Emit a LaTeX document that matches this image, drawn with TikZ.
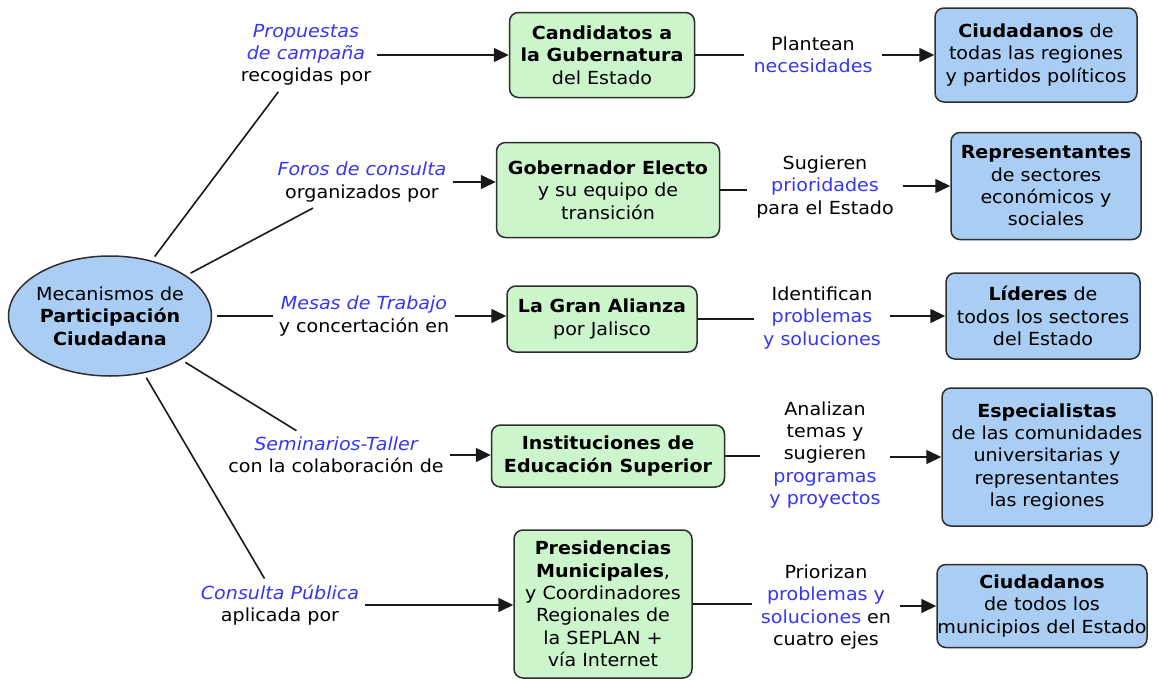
\documentclass[tikz,border=0pt]{standalone}
\usepackage{fontspec}
\setmainfont{DejaVu Sans}[FakeStretch=1.06]
\usetikzlibrary{arrows.meta,shapes.geometric}
\definecolor{hlblue}{HTML}{3535F5}
\definecolor{gfill}{HTML}{CCF5CC}
\definecolor{bfill}{HTML}{A9CDF3}
\definecolor{edgecol}{HTML}{2E2E2E}
\newcommand\hlb[1]{\textcolor{hlblue}{#1}}
\newcommand\hli[1]{\textcolor{hlblue}{\itshape #1}}
\begin{document}
\begin{tikzpicture}[x=1pt,y=-1pt,
  font=\fontsize{18}{22.3}\selectfont,
  gbox/.style={draw=edgecol, line width=1.5pt, fill=gfill, rounded corners=9pt, align=center, inner sep=0pt},
  bbox/.style={gbox, fill=bfill},
  lab/.style={align=center, inner sep=6pt},
  mid/.style={align=center, inner sep=9pt},
  conn/.style={line width=1.6pt, draw=black!90},
  arr/.style={conn, -{Triangle[length=15pt,width=14pt]}},
]
\useasboundingbox (0,0) rectangle (1159,680);

% central ellipse
\node[ellipse, draw=edgecol, line width=1.5pt, fill=bfill, minimum width=203pt, minimum height=120pt, align=center, inner xsep=-8pt, inner ysep=0pt] (m) at (110,316)
  {Mecanismos de\\\textbf{Participación}\\\textbf{Ciudadana}};

% left labels
\node[lab] (l1) at (306,55) {\hli{Propuestas}\\\hli{de campaña}\\recogidas por};
\node[lab] (l2) at (362,182) {\hli{Foros de consulta}\\organizados por};
\node[lab] (l3) at (364,316) {\hli{Mesas de Trabajo}\\y concertación en};
\node[lab] (l4) at (336,455) {\hli{Seminarios-Taller}\\con la colaboración de};
\node[lab] (l5) at (280,605) {\hli{Consulta Pública}\\aplicada por};

% green boxes
\node[gbox, minimum width=185pt, minimum height=85pt] (g1) at (602,55)
  {\textbf{Candidatos a}\\\textbf{la Gubernatura}\\del Estado};
\node[gbox, minimum width=223pt, minimum height=95pt] (g2) at (608,190)
  {\textbf{Gobernador Electo}\\y su equipo de\\transición};
\node[gbox, minimum width=190pt, minimum height=66pt] (g3) at (602,319)
  {\textbf{La Gran Alianza}\\por Jalisco};
\node[gbox, minimum width=233pt, minimum height=62pt] (g4) at (608,456)
  {\textbf{Instituciones de}\\\textbf{Educación Superior}};
\node[gbox, minimum width=178pt, minimum height=148pt] (g5) at (603,604)
  {\textbf{Presidencias}\\\textbf{Municipales},\\y Coordinadores\\Regionales de\\la SEPLAN +\\vía Internet};

% middle labels
\node[mid] (t1) at (813,55) {Plantean\\\hlb{necesidades}};
\node[mid] (t2) at (825,187) {Sugieren\\\hlb{prioridades}\\para el Estado};
\node[mid] (t3) at (822,318) {Identifican\\\hlb{problemas}\\\hlb{y soluciones}};
\node[mid] (t4) at (825,455) {Analizan\\temas y\\sugieren\\\hlb{programas}\\\hlb{y proyectos}};
\node[mid] (t5) at (826,607) {Priorizan\\\hlb{problemas y}\\\hlb{soluciones} en\\cuatro ejes};

% blue boxes
\node[bbox, minimum width=202pt, minimum height=94pt] (b1) at (1036,55)
  {\textbf{Ciudadanos} de\\todas las regiones\\y partidos políticos};
\node[bbox, minimum width=190pt, minimum height=107pt] (b2) at (1046,186)
  {\textbf{Representantes}\\de sectores\\económicos y\\sociales};
\node[bbox, minimum width=194pt, minimum height=86pt] (b3) at (1043,316)
  {\textbf{Líderes} de\\todos los sectores\\del Estado};
\node[bbox, minimum width=210pt, minimum height=138pt] (b4) at (1047,457)
  {\textbf{Especialistas}\\de las comunidades\\universitarias y\\representantes\\las regiones};
\node[bbox, minimum width=210pt, minimum height=83pt] (b5) at (1042,606)
  {\textbf{Ciudadanos}\\de todos los\\municipios del Estado};

% connectors from the ellipse
\foreach \i in {1,...,5} {
  \draw[conn, shorten <=5pt] (m) -- (l\i);
}

% label -> green box
\foreach \i in {1,...,5} {
  \draw[arr] (l\i.east) -- (l\i.east -| g\i.west);
}

% green box -> middle label -> blue box
\foreach \i in {1,...,5} {
  \draw[conn] (g\i.east) -- (g\i.east -| t\i.west);
  \draw[arr] (t\i.east |- b\i.west) -- (b\i.west);
}
\end{tikzpicture}
\end{document}
